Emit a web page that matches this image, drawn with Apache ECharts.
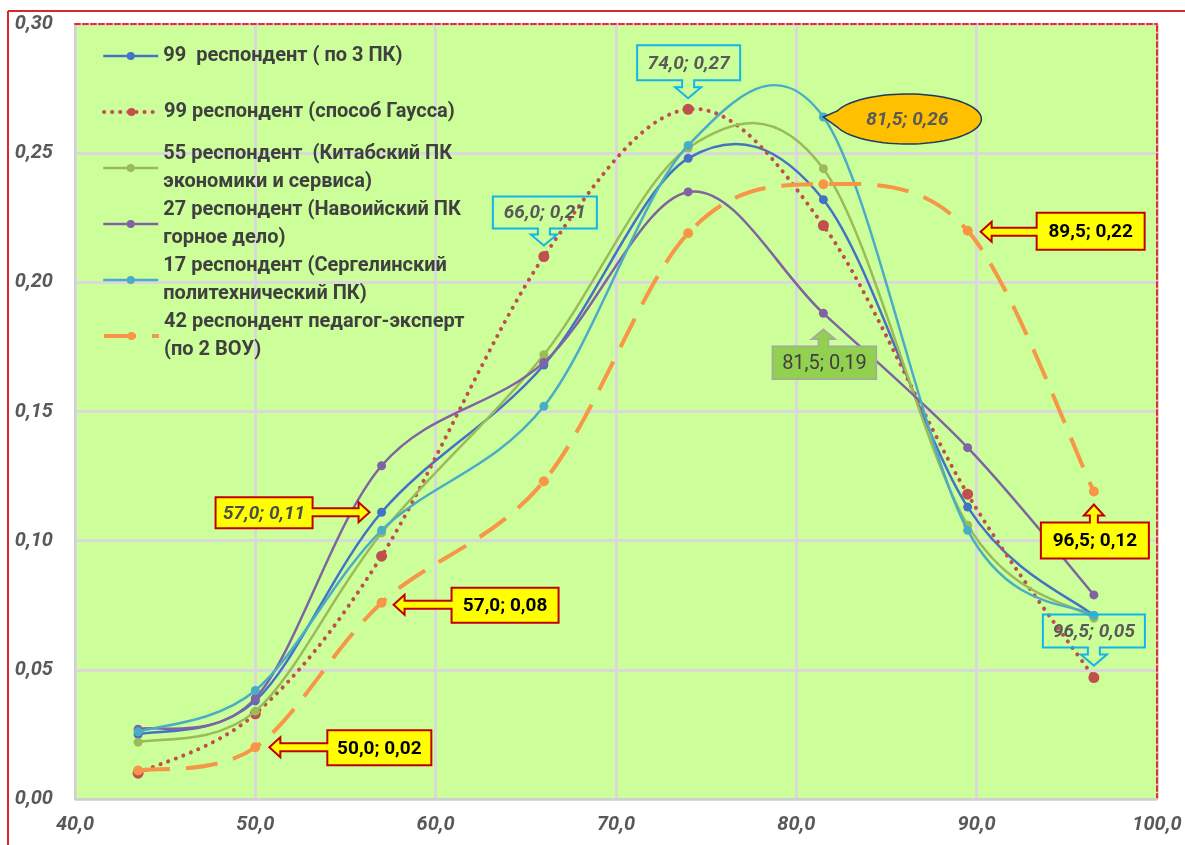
<!DOCTYPE html>
<html>
<head>
<meta charset="utf-8">
<script src="https://cdn.jsdelivr.net/npm/echarts@6/dist/echarts.min.js"></script>
<style>
  html, body { margin: 0; padding: 0; background: #ffffff; }
  #chart { width: 1185px; height: 845px; }
</style>
</head>
<body>
<div id="chart"></div>
<script>
// ---------- data ----------
const xValues = [43.5, 50.0, 57.0, 66.0, 74.0, 81.5, 89.5, 96.5];
const seriesNames = [
  '99  респондент ( по 3 ПК)',
  '99 респондент (способ Гаусса)',
  '55 респондент  (Китабский ПК\nэкономики и сервиса)',
  '27 респондент (Навоийский ПК\nгорное дело)',
  '17 респондент (Сергелинский\nполитехнический ПК)',
  '42 респондент педагог-эксперт\n(по 2 ВОУ)'
];
const allValues = [0.025, 0.038, 0.111, 0.168, 0.248, 0.232, 0.113, 0.071];
const gaussValues = [0.010, 0.033, 0.094, 0.210, 0.267, 0.222, 0.118, 0.047];
const kitabValues = [0.022, 0.034, 0.103, 0.172, 0.252, 0.244, 0.106, 0.070];
const navoiValues = [0.027, 0.039, 0.129, 0.169, 0.235, 0.188, 0.136, 0.079];
const sergeliValues = [0.026, 0.042, 0.104, 0.152, 0.253, 0.264, 0.104, 0.071];
const expertValues = [0.011, 0.020, 0.076, 0.123, 0.219, 0.238, 0.220, 0.119];
const seriesValues = [allValues, gaussValues, kitabValues, navoiValues, sergeliValues, expertValues];
const xTicks = [40, 50, 60, 70, 80, 90, 100];
const yTicks = [0, 0.05, 0.10, 0.15, 0.20, 0.25, 0.30];

// ---------- styles ----------
const colors = ['#4472C4', '#C0504D', '#9BBB59', '#8064A2', '#4BACC6', '#F79646'];
const lineStyles = [
  { width: 2.5, dash: null, cap: 'butt', symbolSize: 9 },
  { width: 4, dash: [0.1, 8], cap: 'round', symbolSize: 11 },
  { width: 2.5, dash: null, cap: 'butt', symbolSize: 9 },
  { width: 2.5, dash: null, cap: 'butt', symbolSize: 9 },
  { width: 2.5, dash: null, cap: 'butt', symbolSize: 9 },
  { width: 4, dash: [32, 16], cap: 'butt', symbolSize: 10 }
];
const legendCenters = [56, 112, 168, 224, 280, 336];
const FONT = 'Roboto, "Liberation Sans", sans-serif';

// annotation callouts: which point, look, and geometry offsets relative to the point
const callouts = [
  { s: 0, i: 2, look: 'yellowItalic', dir: 'right', box: [-166, -15, -69, 16], tip: [-12, 0] },
  { s: 5, i: 2, look: 'yellowBold', dir: 'left', box: [70, -15, 177, 20], tip: [12, 2] },
  { s: 5, i: 1, look: 'yellowBold', dir: 'left', box: [72, -17, 176, 18], tip: [14, 0] },
  { s: 1, i: 3, look: 'cyan', dir: 'down', box: [-51, -60, 53, -28], tip: [0, -11] },
  { s: 1, i: 4, look: 'cyan', dir: 'down', box: [-51, -64, 52, -29], tip: [0, -11] },
  { s: 4, i: 5, look: 'ellipse', center: [84, 2], r: [74, 25] },
  { s: 5, i: 6, look: 'yellowBold', dir: 'left', box: [69, -18, 177, 19], tip: [13, 1] },
  { s: 3, i: 5, look: 'green', dir: 'up', box: [-51, 33, 53, 66], tip: [0, 16] },
  { s: 5, i: 7, look: 'yellowBold', dir: 'up', box: [-53, 31, 55, 67], tip: [0, 13] },
  { s: 1, i: 7, look: 'cyan', dir: 'down', box: [-51, -63, 51, -30], tip: [0, -12] }
];

const looks = {
  yellowItalic: { fill: '#FFFF00', stroke: '#C00000', lw: 2, color: '#4D4D4D', style: 'italic', weight: 'bold', size: 19, s: 4, h: 10, L: 11 },
  yellowBold: { fill: '#FFFF00', stroke: '#C00000', lw: 2, color: '#000000', style: 'normal', weight: 'bold', size: 19, s: 4, h: 10, L: 11 },
  cyan: { fill: 'rgba(0,0,0,0)', stroke: '#12B5EA', lw: 2, color: '#595959', style: 'italic', weight: 'bold', size: 19, s: 6, h: 13, L: 11 },
  green: { fill: '#92D050', stroke: '#A6A6A6', lw: 1.5, color: '#404040', style: 'normal', weight: 'normal', size: 20, s: 5, h: 12, L: 10 },
  ellipse: { fill: '#FFC000', stroke: '#1F3864', lw: 1.5, color: '#595959', style: 'italic', weight: 'bold', size: 19 }
};

function fmtX(v) { return v.toFixed(1).replace('.', ','); }
function fmtY(v) { return v.toFixed(2).replace('.', ','); }

const chart = echarts.init(document.getElementById('chart'), null, { renderer: 'canvas' });

// Excel-like smoothed curve (Catmull-Rom, 1/6 tangents) drawn through the axes' scales
function curveRenderer(k) {
  return function (params, api) {
    if (params.dataIndexInside !== 0) return null;
    const n = params.dataInsideLength;
    const pts = [];
    for (let j = 0; j < n; j++) pts.push(api.coord([api.value(0, j), api.value(1, j)]));
    let d = 'M' + pts[0][0] + ' ' + pts[0][1];
    for (let j = 0; j < n - 1; j++) {
      const p0 = pts[Math.max(j - 1, 0)], p1 = pts[j], p2 = pts[j + 1], p3 = pts[Math.min(j + 2, n - 1)];
      const c1x = p1[0] + (p2[0] - p0[0]) / 6, c1y = p1[1] + (p2[1] - p0[1]) / 6;
      const c2x = p2[0] - (p3[0] - p1[0]) / 6, c2y = p2[1] - (p3[1] - p1[1]) / 6;
      d += ' C' + c1x + ' ' + c1y + ' ' + c2x + ' ' + c2y + ' ' + p2[0] + ' ' + p2[1];
    }
    const ls = lineStyles[k];
    return {
      type: 'path',
      shape: { pathData: d },
      style: {
        fill: 'none',
        stroke: colors[k],
        lineWidth: ls.width,
        lineDash: ls.dash,
        lineCap: ls.cap
      }
    };
  };
}

const series = [];
seriesNames.forEach((name, k) => {
  const data = xValues.map((x, j) => [x, seriesValues[k][j]]);
  series.push({
    name: 'curve-' + k,
    type: 'custom',
    data: data,
    encode: { x: 0, y: 1 },
    silent: true,
    z: 2 + 2 * k,
    renderItem: curveRenderer(k)
  });
  series.push({
    name: name,
    type: 'line',
    data: data,
    symbol: 'circle',
    symbolSize: lineStyles[k].symbolSize,
    showSymbol: true,
    color: colors[k],
    lineStyle: { color: colors[k], width: lineStyles[k].width, opacity: 0 },
    itemStyle: { color: colors[k] },
    emphasis: { disabled: true },
    z: 3 + 2 * k
  });
});

const legends = seriesNames.map((name, k) => {
  const twoLine = name.indexOf('\n') >= 0;
  const ls = lineStyles[k];
  return {
    data: [name],
    left: 102,
    top: legendCenters[k] - (twoLine ? 42 : 14),
    padding: 0,
    itemWidth: 55,
    itemHeight: 10,
    itemGap: 5,
    selectedMode: false,
    lineStyle: {
      color: colors[k],
      width: ls.width,
      type: ls.dash ? ls.dash : 'solid',
      cap: ls.cap,
      opacity: 1
    },
    textStyle: {
      fontFamily: FONT,
      fontSize: 20,
      fontWeight: 'bold',
      color: '#404040',
      lineHeight: 28,
      padding: twoLine ? [28, 0, 0, 0] : 0
    }
  };
});

const axisLabelStyle = {
  fontFamily: FONT,
  fontSize: 20,
  fontStyle: 'italic',
  fontWeight: 'bold',
  color: '#595959'
};

const option = {
  animation: false,
  backgroundColor: '#ffffff',
  grid: {
    left: 75, right: 28, top: 24, bottom: 46,
    show: true,
    backgroundColor: '#CCFF99',
    borderWidth: 0
  },
  legend: legends,
  xAxis: [{
    type: 'value',
    min: xTicks[0], max: xTicks[xTicks.length - 1], interval: 10,
    axisLine: { show: true, onZero: false, lineStyle: { color: '#D0D0D0', width: 2 } },
    axisTick: { show: false },
    splitLine: { show: true, lineStyle: { color: '#D9D9D9', width: 3 } },
    axisLabel: Object.assign({ margin: 16, formatter: fmtX }, axisLabelStyle)
  }, {
    type: 'value', position: 'top',
    min: xTicks[0], max: xTicks[xTicks.length - 1], interval: 10,
    axisLine: { show: true, onZero: false, lineStyle: { color: '#E03030', width: 2, type: [5, 3] } },
    axisTick: { show: false }, axisLabel: { show: false }, splitLine: { show: false }
  }],
  yAxis: [{
    type: 'value',
    min: yTicks[0], max: yTicks[yTicks.length - 1], interval: 0.05,
    axisLine: { show: true, onZero: false, lineStyle: { color: '#D0D0D0', width: 2 } },
    axisTick: { show: false },
    splitLine: { show: true, lineStyle: { color: '#D9D9D9', width: 3 } },
    axisLabel: Object.assign({ margin: 22, formatter: fmtY }, axisLabelStyle)
  }, {
    type: 'value', position: 'right',
    min: yTicks[0], max: yTicks[yTicks.length - 1], interval: 0.05,
    axisLine: { show: true, onZero: false, lineStyle: { color: '#E03030', width: 2, type: [5, 3] } },
    axisTick: { show: false }, axisLabel: { show: false }, splitLine: { show: false }
  }],
  series: series
};

chart.setOption(option);

function arrowBoxPoints(b, dir, t, s, h, L) {
  const [x0, y0, x1, y1] = b;
  const [tx, ty] = t;
  if (dir === 'right') {
    return [[x0, y0], [x1, y0], [x1, ty - s], [tx - L, ty - s], [tx - L, ty - h], [tx, ty], [tx - L, ty + h], [tx - L, ty + s], [x1, ty + s], [x1, y1], [x0, y1]];
  }
  if (dir === 'left') {
    return [[x0, y0], [x1, y0], [x1, y1], [x0, y1], [x0, ty + s], [tx + L, ty + s], [tx + L, ty + h], [tx, ty], [tx + L, ty - h], [tx + L, ty - s], [x0, ty - s]];
  }
  if (dir === 'down') {
    return [[x0, y0], [x1, y0], [x1, y1], [tx + s, y1], [tx + s, ty - L], [tx + h, ty - L], [tx, ty], [tx - h, ty - L], [tx - s, ty - L], [tx - s, y1], [x0, y1]];
  }
  return [[x0, y0], [tx - s, y0], [tx - s, ty + L], [tx - h, ty + L], [tx, ty], [tx + h, ty + L], [tx + s, ty + L], [tx + s, y0], [x1, y0], [x1, y1], [x0, y1]];
}

function ellipsePoints(tip, cx, cy, rx, ry) {
  const pts = [tip];
  const a0 = Math.PI + 0.33, a1 = 3 * Math.PI - 0.33;
  const n = 80;
  for (let q = 0; q <= n; q++) {
    const a = a0 + (a1 - a0) * q / n;
    pts.push([cx + rx * Math.cos(a), cy + ry * Math.sin(a)]);
  }
  return pts;
}

const graphics = [
  { type: 'line', silent: true, z: 100, shape: { x1: 8, y1: 11, x2: 1185, y2: 11 }, style: { stroke: '#D42A2A', lineWidth: 2 } },
  { type: 'line', silent: true, z: 100, shape: { x1: 8, y1: 11, x2: 8, y2: 845 }, style: { stroke: '#D42A2A', lineWidth: 2 } }
];

callouts.forEach(c => {
  const xv = xValues[c.i], yv = seriesValues[c.s][c.i];
  const p = chart.convertToPixel({ xAxisIndex: 0, yAxisIndex: 0 }, [xv, yv]);
  const ax = p[0], ay = p[1];
  const lk = looks[c.look];
  const label = fmtX(xv) + '; ' + fmtY(yv);
  let pts, tx, ty;
  if (c.look === 'ellipse') {
    const cx = ax + c.center[0], cy = ay + c.center[1];
    pts = ellipsePoints([ax, ay], cx, cy, c.r[0], c.r[1]);
    tx = cx; ty = cy;
  } else {
    const b = [ax + c.box[0], ay + c.box[1], ax + c.box[2], ay + c.box[3]];
    pts = arrowBoxPoints(b, c.dir, [ax + c.tip[0], ay + c.tip[1]], lk.s, lk.h, lk.L);
    tx = (b[0] + b[2]) / 2; ty = (b[1] + b[3]) / 2;
  }
  graphics.push({
    type: 'polygon', silent: true, z: 50,
    shape: { points: pts },
    style: { fill: lk.fill, stroke: lk.stroke, lineWidth: lk.lw, lineJoin: 'miter' }
  });
  graphics.push({
    type: 'text', silent: true, z: 51,
    style: {
      text: label, x: tx, y: ty + 1, align: 'center', verticalAlign: 'middle',
      fontFamily: FONT, fontSize: lk.size, fontWeight: lk.weight, fontStyle: lk.style,
      fill: lk.color
    }
  });
});

chart.setOption({ graphic: graphics });
</script>
</body>
</html>
